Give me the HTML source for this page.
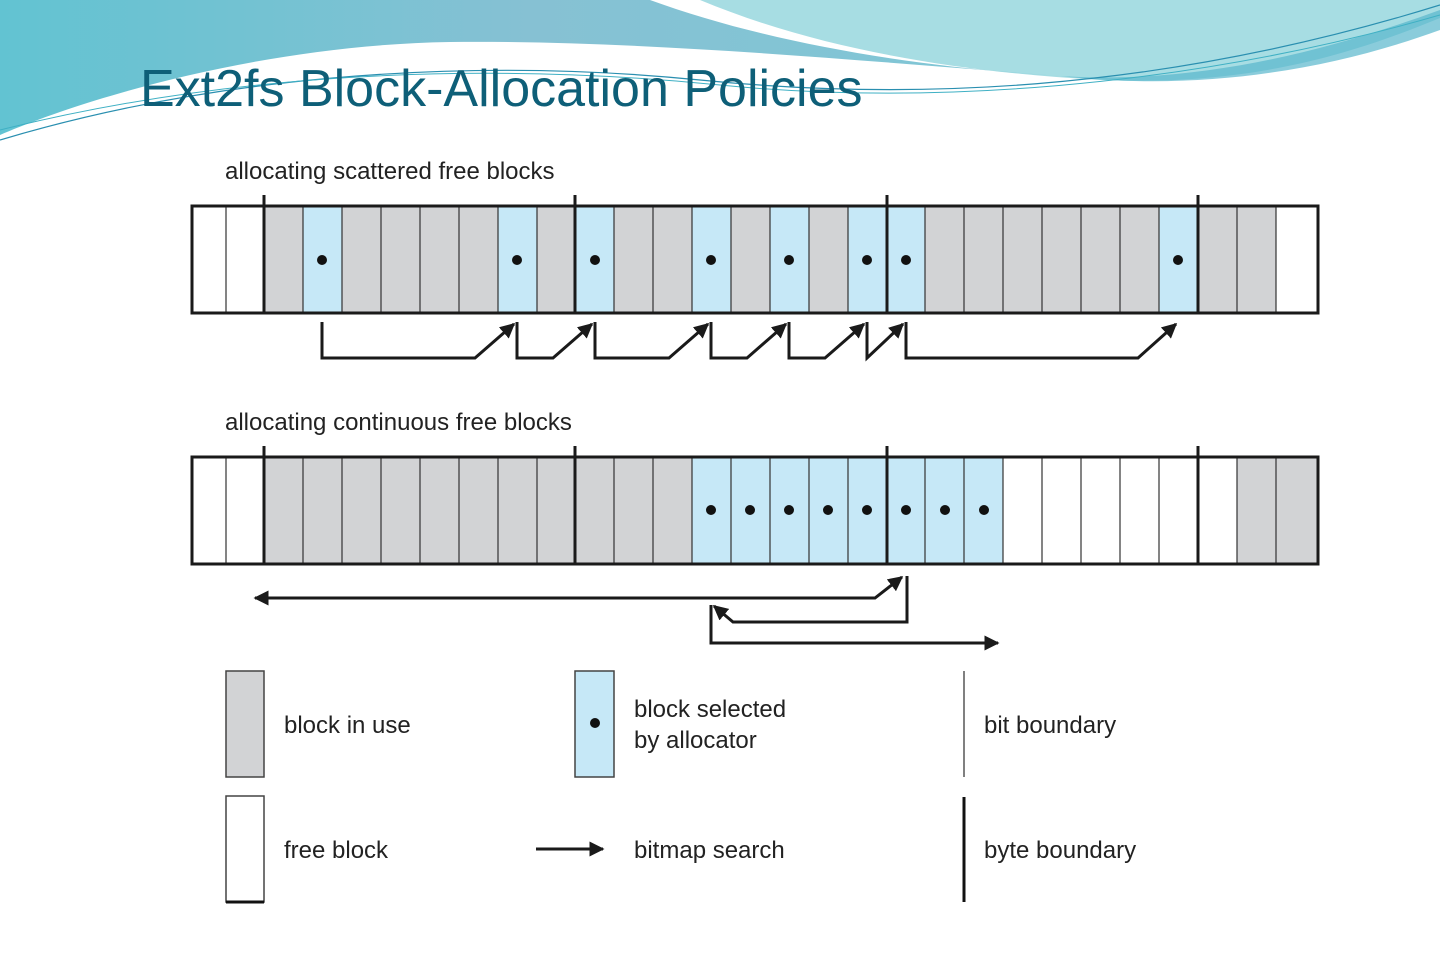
<!DOCTYPE html>
<html><head><meta charset="utf-8"><style>
html,body{margin:0;padding:0;background:#fff;}
svg{display:block;}
text{font-family:"Liberation Sans",sans-serif;}
</style></head><body>
<svg width="1440" height="960" viewBox="0 0 1440 960" xmlns="http://www.w3.org/2000/svg">
<defs>
<linearGradient id="g1" x1="0" y1="0" x2="1" y2="0">
<stop offset="0" stop-color="#62c3d2"/><stop offset="0.5" stop-color="#86c1d3"/><stop offset="1" stop-color="#7fc7d6"/>
</linearGradient>
<marker id="ah" viewBox="0 0 10 10" refX="9" refY="5" markerWidth="5" markerHeight="5" orient="auto-start-reverse">
<path d="M0,0 L10,5 L0,10 Z" fill="#1a1a1a"/></marker>
</defs>
<!-- header waves -->
<path d="M0,0 H700 C820,50 960,72 1100,80 C1250,86 1350,55 1440,18 V0 Z" fill="#a7dde3"/>
<path d="M0,0 H650 C760,40 900,66 1060,76 C850,60 640,40 450,42 C260,45 80,100 0,135 Z" fill="url(#g1)"/>
<path d="M1060,76 C1200,85 1330,50 1440,10 V30 C1330,70 1200,92 1060,76 Z" fill="#59b6cc" opacity="0.7"/>
<path d="M0,140 C200,80 450,55 700,80 C900,100 1150,95 1440,5" fill="none" stroke="#2a8fb0" stroke-width="1.2"/>
<path d="M0,130 C220,75 470,60 720,85 C920,105 1180,90 1440,15" fill="none" stroke="#3fb0c4" stroke-width="1"/>
<text x="140" y="106" font-size="52" fill="#0e5f78">Ext2fs Block-Allocation Policies</text>

<rect x="188" y="152" width="1132" height="756" fill="#fff"/>

<text x="225" y="179" font-size="24" fill="#222">allocating scattered free blocks</text>
<!-- top row -->
<g>
<rect x="192" y="206" width="1126" height="107" fill="#fff"/>
<rect x="264" y="206" width="1012" height="107" fill="#d2d3d5"/>
<g fill="#c6e8f7">
<rect x="303" y="206" width="39" height="107"/><rect x="498" y="206" width="39" height="107"/>
<rect x="575" y="206" width="39" height="107"/><rect x="692" y="206" width="39" height="107"/>
<rect x="770" y="206" width="39" height="107"/><rect x="848" y="206" width="77" height="107"/>
<rect x="1159" y="206" width="39" height="107"/>
</g>
<g stroke="#333" stroke-width="1.2">
<path d="M226,206V313M303,206V313M342,206V313M381,206V313M420,206V313M459,206V313M498,206V313M537,206V313M614,206V313M653,206V313M692,206V313M731,206V313M770,206V313M809,206V313M848,206V313M925,206V313M964,206V313M1003,206V313M1042,206V313M1081,206V313M1120,206V313M1159,206V313M1237,206V313M1276,206V313"/>
</g>
<rect x="192" y="206" width="1126" height="107" fill="none" stroke="#1a1a1a" stroke-width="3"/>
<path d="M264,195V313M575,195V313M887,195V313M1198,195V313" stroke="#1a1a1a" stroke-width="3"/>
<g fill="#111">
<circle cx="322" cy="260" r="5"/><circle cx="517" cy="260" r="5"/><circle cx="595" cy="260" r="5"/>
<circle cx="711" cy="260" r="5"/><circle cx="789" cy="260" r="5"/><circle cx="867" cy="260" r="5"/>
<circle cx="906" cy="260" r="5"/><circle cx="1178" cy="260" r="5"/>
</g>
</g>
<!-- top arrows -->
<g fill="none" stroke="#1a1a1a" stroke-width="3" marker-end="url(#ah)">
<path d="M322,322V358H475L514,324"/>
<path d="M517,322V358H553L592,324"/>
<path d="M595,322V358H669L708,324"/>
<path d="M711,322V358H747L786,324"/>
<path d="M789,322V358H825L864,324"/>
<path d="M867,322V358L903,324"/>
<path d="M906,322V358H1138L1176,324"/>
</g>

<text x="225" y="430" font-size="24" fill="#222">allocating continuous free blocks</text>
<!-- bottom row -->
<g>
<rect x="192" y="457" width="1126" height="107" fill="#fff"/>
<rect x="264" y="457" width="428" height="107" fill="#d2d3d5"/>
<rect x="692" y="457" width="311" height="107" fill="#c6e8f7"/>
<rect x="1237" y="457" width="81" height="107" fill="#d2d3d5"/>
<g stroke="#333" stroke-width="1.2">
<path d="M226,457V564M303,457V564M342,457V564M381,457V564M420,457V564M459,457V564M498,457V564M537,457V564M614,457V564M653,457V564M692,457V564M731,457V564M770,457V564M809,457V564M848,457V564M925,457V564M964,457V564M1003,457V564M1042,457V564M1081,457V564M1120,457V564M1159,457V564M1237,457V564M1276,457V564"/>
</g>
<rect x="192" y="457" width="1126" height="107" fill="none" stroke="#1a1a1a" stroke-width="3"/>
<path d="M264,446V564M575,446V564M887,446V564M1198,446V564" stroke="#1a1a1a" stroke-width="3"/>
<g fill="#111">
<circle cx="711" cy="510" r="5"/><circle cx="750" cy="510" r="5"/><circle cx="789" cy="510" r="5"/>
<circle cx="828" cy="510" r="5"/><circle cx="867" cy="510" r="5"/><circle cx="906" cy="510" r="5"/>
<circle cx="945" cy="510" r="5"/><circle cx="984" cy="510" r="5"/>
</g>
</g>
<g fill="none" stroke="#1a1a1a" stroke-width="3">
<path d="M255,598H875L902,577" marker-end="url(#ah)" marker-start="url(#ah)"/>
<path d="M907,576V622H733L714,606" marker-end="url(#ah)"/>
<path d="M711,605V643H998" marker-end="url(#ah)"/>
</g>

<!-- legend -->
<rect x="226" y="671" width="38" height="106" fill="#d2d3d5" stroke="#444" stroke-width="1.5"/>
<text x="284" y="733" font-size="24" fill="#222">block in use</text>
<rect x="575" y="671" width="39" height="106" fill="#c6e8f7" stroke="#444" stroke-width="1.5"/>
<circle cx="595" cy="723" r="5" fill="#111"/>
<text x="634" y="717" font-size="24" fill="#222">block selected</text>
<text x="634" y="748" font-size="24" fill="#222">by allocator</text>
<path d="M964,671V777" stroke="#555" stroke-width="1.5"/>
<text x="984" y="733" font-size="24" fill="#222">bit boundary</text>

<rect x="226" y="796" width="38" height="106" fill="#fff" stroke="#444" stroke-width="1.5"/>
<path d="M226,902H264" stroke="#111" stroke-width="3"/>
<text x="284" y="858" font-size="24" fill="#222">free block</text>
<path d="M536,849H603" stroke="#1a1a1a" stroke-width="3" marker-end="url(#ah)"/>
<text x="634" y="858" font-size="24" fill="#222">bitmap search</text>
<path d="M964,797V902" stroke="#111" stroke-width="3"/>
<text x="984" y="858" font-size="24" fill="#222">byte boundary</text>
</svg>
</body></html>
